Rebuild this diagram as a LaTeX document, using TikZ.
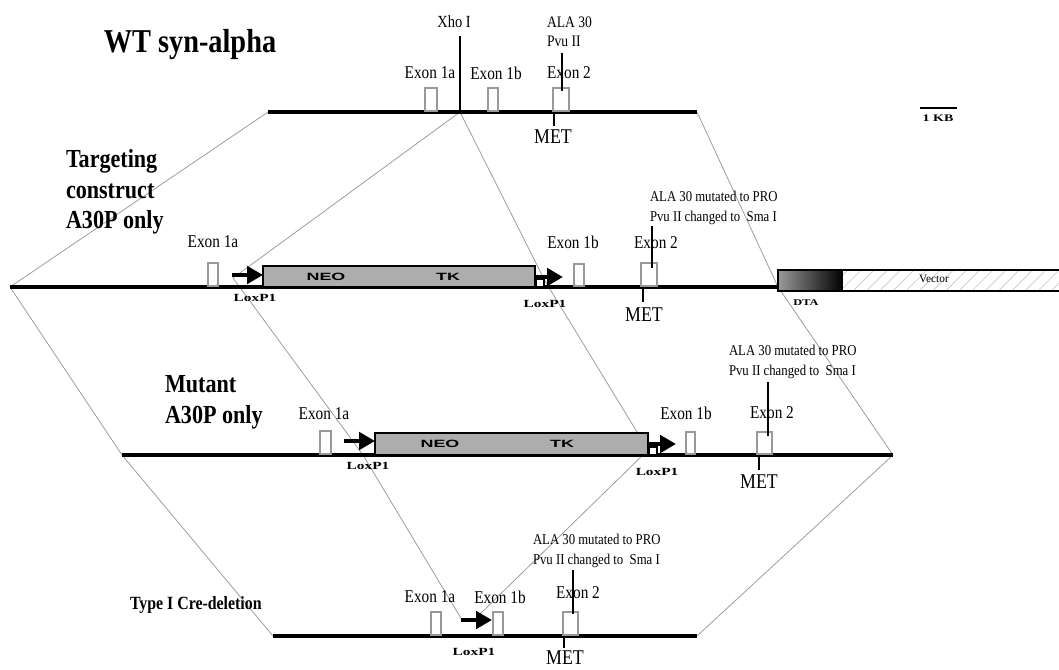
\documentclass[tikz,border=0pt]{standalone}
\usepackage{fontspec}
\setmainfont{Liberation Serif}
\newfontfamily\cf[FakeStretch=0.85]{Liberation Serif}
\newfontfamily\wf[FakeStretch=1.4]{Liberation Serif}
\newfontfamily\nf[FakeStretch=1.7]{Liberation Sans}
\usetikzlibrary{arrows.meta,patterns.meta}
\newcommand\myfs[2]{\fontsize{#1}{#2}\selectfont}
\tikzset{
  dna/.style={line width=2.5pt},
  conn/.style={draw=black!38, line width=0.6pt},
  exon/.style={draw=black!40, fill=white, line width=0.8pt},
  tickline/.style={line width=1pt},
  cassette/.style={draw=black, fill=black!32, line width=2.2pt},
  loxarr/.style={line width=3pt, -{Triangle[length=12pt,width=13pt]}},
  loxsq/.style={draw=black, fill=white, line width=1.2pt},
  txt/.style={inner sep=0pt, outer sep=0pt},
  exlab/.style={txt, font=\cf\myfs{13.5}{14}},
  metlab/.style={txt, font=\cf\myfs{15.75}{16}},
  mutlab/.style={txt, font=\cf\myfs{11.25}{15}, align=left, anchor=west},
  loxlab/.style={txt, font=\wf\bfseries\myfs{8.2}{9}},
  cassettelab/.style={txt, font=\nf\bfseries\myfs{7.9}{8}},
  titlelab/.style={txt, font=\cf\bfseries\myfs{19.5}{23}, align=left, anchor=west},
}
\begin{document}
\begin{tikzpicture}[x=0.75pt,y=-0.75pt]
\fill[white] (0,0) rectangle (1059,669);
\useasboundingbox (0,0) rectangle (1059,669);

% ---------- key points ----------
\coordinate (wtL) at (268,112);  \coordinate (wtR) at (697,112);  \coordinate (xho) at (460,112);
\coordinate (tgL) at (10,287);   \coordinate (tgR) at (778,287);
\coordinate (tgLoxA) at (233,278); \coordinate (tgLoxB) at (545,281);
\coordinate (muL) at (122,455);  \coordinate (muR) at (893,455);
\coordinate (muLoxA) at (363,455); \coordinate (muLoxB) at (648,450);
\coordinate (crL) at (273,636);  \coordinate (crR) at (697,636);
\coordinate (crLoxA) at (462,620); \coordinate (crLoxB) at (480,614);

% ---------- grey homology connectors ----------
\draw[conn] (wtL) -- (tgL) -- (muL) -- (crL);
\draw[conn] (wtR) -- (tgR) -- (muR) -- (crR);
\draw[conn] (xho) -- (tgLoxA) -- (muLoxA) -- (crLoxA);
\draw[conn] (xho) -- (tgLoxB) -- (muLoxB) -- (crLoxB);

% ---------- WT ----------
\node[txt, font=\cf\bfseries\myfs{25}{26}] (wttitle) at (190,45) {WT syn-alpha};
\draw[dna] (wtL) -- (wtR);
\draw[exon] (425,88) rectangle (437,111);
\draw[exon] (488,88) rectangle (498,111);
\draw[exon] (553,88) rectangle (569,111);
\draw[tickline] (460,36) -- (xho);
\node[txt, font=\cf\myfs{12.75}{13}] (xholab) at (454,22) {Xho I};
\node[exlab] (wte1a) at (430,73) {Exon 1a};
\node[exlab] (wte1b) at (496,73) {Exon 1b};
\node[exlab] (wte2) at (569,73) {Exon 2};
\node[txt, font=\cf\myfs{12}{14.25}, align=left, anchor=west] (wtala) at (547,32) {ALA 30\\Pvu II};
\draw[tickline] (562,53) -- (562,91);
\draw[tickline] (554,112) -- (554,126);
\node[metlab] (wtmet) at (553,137) {MET};
% scale bar
\draw[line width=2pt] (920,108) -- (957,108);
\node[txt, font=\wf\bfseries\myfs{7.5}{8}] (kb) at (938,118) {1 KB};

% ---------- Targeting construct ----------
\node[titlelab] (tgtitle) at (66,192) {Targeting\\construct\\A30P only};
\draw[dna] (tgL) -- (tgR);
\shade[left color=black!40, right color=black] (778,270) rectangle (843,291);
\fill[white] (843,270) rectangle (1068,291);
\fill[pattern={Lines[angle=45,distance=7pt,line width=0.5pt]}, pattern color=black!22] (843,270) rectangle (1068,291);
\draw[line width=2.2pt] (778,270) rectangle (1068,291);
\node[txt, font=\rmfamily\myfs{8.5}{9}] (vector) at (934,279) {Vector};
\node[txt, font=\wf\bfseries\myfs{6.6}{7}] (dta) at (806,303) {DTA};
\draw[exon] (208,263) rectangle (218,286);
\node[exlab] (tge1a) at (213,242) {Exon 1a};
\draw[loxarr] (232,275) -- (263,275);
\draw[cassette] (263,266) rectangle (535,287);
\node[cassettelab] (tgneo) at (326,277) {NEO};
\node[cassettelab] (tgtk) at (448,277) {TK};
\draw[loxsq] (536,279) rectangle (544,287);
\draw[loxarr] (536,277) -- (563,277);
\node[loxlab] (tglox1) at (255,298) {LoxP1};
\node[loxlab] (tglox2) at (545,304) {LoxP1};
\draw[exon] (574,264) rectangle (584,286);
\node[exlab] (tge1b) at (573,242) {Exon 1b};
\draw[exon] (641,263) rectangle (657,286);
\node[exlab] (tge2) at (656,243) {Exon 2};
\node[mutlab] (tgala) at (650,208) {ALA 30 mutated to PRO\\Pvu II changed to\ \ Sma I};
\draw[tickline] (652,226) -- (652,268);
\draw[tickline] (643,287) -- (643,302);
\node[metlab] (tgmet) at (644,315) {MET};

% ---------- Mutant ----------
\node[titlelab] (mutitle) at (165,402) {Mutant\\A30P only};
\draw[dna] (muL) -- (muR);
\draw[exon] (320,431) rectangle (331,454);
\node[exlab] (mue1a) at (324,414) {Exon 1a};
\draw[loxarr] (344,441) -- (375,441);
\draw[cassette] (375,433) rectangle (648,455);
\node[cassettelab] (muneo) at (440,444) {NEO};
\node[cassettelab] (mutk) at (562,444) {TK};
\draw[loxsq] (649,447) rectangle (657,455);
\draw[loxarr] (649,444) -- (676,444);
\node[loxlab] (mulox1) at (368,466) {LoxP1};
\node[loxlab] (mulox2) at (657,472) {LoxP1};
\draw[exon] (686,432) rectangle (695,454);
\node[exlab] (mue1b) at (686,413) {Exon 1b};
\draw[exon] (757,432) rectangle (772,454);
\node[exlab] (mue2) at (772,413) {Exon 2};
\node[mutlab] (muala) at (729,362) {ALA 30 mutated to PRO\\Pvu II changed to\ \ Sma I};
\draw[tickline] (768,382) -- (768,436);
\draw[tickline] (759,455) -- (759,470);
\node[metlab] (mumet) at (759,482) {MET};

% ---------- Type I Cre-deletion ----------
\node[txt, font=\cf\bfseries\myfs{14}{15}, anchor=west] (crtitle) at (130,605) {Type I Cre-deletion};
\draw[dna] (crL) -- (crR);
\draw[exon] (431,612) rectangle (441,635);
\node[exlab] (cre1a) at (430,597) {Exon 1a};
\draw[loxarr] (461,620) -- (492,620);
\draw[exon] (493,612) rectangle (503,635);
\node[exlab] (cre1b) at (500,597) {Exon 1b};
\draw[exon] (563,612) rectangle (578,635);
\node[exlab] (cre2) at (578,593) {Exon 2};
\node[mutlab] (crala) at (533,551) {ALA 30 mutated to PRO\\Pvu II changed to\ \ Sma I};
\draw[tickline] (573,570) -- (573,614);
\draw[tickline] (564,636) -- (564,648);
\node[metlab] (crmet) at (565,658) {MET};
\node[loxlab] (crlox) at (474,652) {LoxP1};
\end{tikzpicture}
\end{document}
